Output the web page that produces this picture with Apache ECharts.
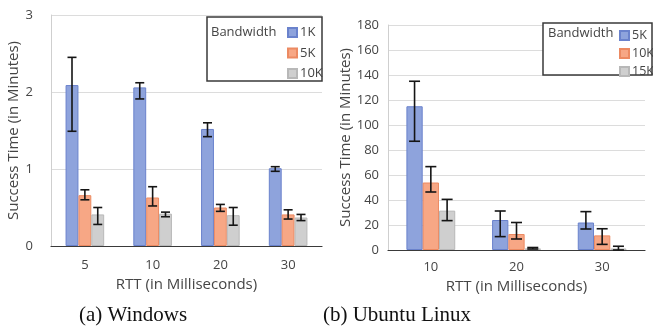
<!DOCTYPE html>
<html><head><meta charset="utf-8">
<script src="https://cdn.jsdelivr.net/npm/echarts@6/dist/echarts.min.js"></script>
<style>html,body{margin:0;padding:0;background:#fff}#c{width:653px;height:327px}</style>
</head><body><div id="c"></div>
<script>
// ---- Data: (a) Windows ----
var winCategories = ['5', '10', '20', '30'];
var winNames = ['1K', '5K', '10K'];
var win1K = [2.09, 2.06, 1.52, 1.01];
var win5K = [0.66, 0.63, 0.50, 0.41];
var win10K = [0.41, 0.42, 0.40, 0.37];
var win1KErr = [[1.49, 2.45], [1.91, 2.12], [1.42, 1.60], [0.97, 1.03]];
var win5KErr = [[0.60, 0.73], [0.52, 0.77], [0.45, 0.54], [0.35, 0.47]];
var win10KErr = [[0.28, 0.50], [0.38, 0.44], [0.27, 0.50], [0.33, 0.41]];
var winYTicks = [0, 1, 2, 3];

// ---- Data: (b) Ubuntu Linux ----
var ubuCategories = ['10', '20', '30'];
var ubuNames = ['5K', '10K', '15K'];
var ubu5K = [115, 24, 22];
var ubu10K = [54, 12.8, 11.7];
var ubu15K = [31.5, 1.3, 1.2];
var ubu5KErr = [[87, 135], [10.7, 31.2], [16.8, 30.7]];
var ubu10KErr = [[46.4, 66.7], [8.8, 22], [4.5, 17]];
var ubu15KErr = [[23.5, 40.5], [0.8, 2], [0, 3]];
var ubuYTicks = [0, 20, 40, 60, 80, 100, 120, 140, 160, 180];

var FILLS = ['#8ea3dc', '#f7a785', '#cfcfcf'];
var BORDERS = ['#6a82cc', '#ec8a62', '#b8b8b8'];
var FONT = 'Open Sans';
var TXT = '#454545';
var BARFRAC = 0.19;

var chart = echarts.init(document.getElementById('c'), null, {renderer: 'canvas'});

function barSeries(name, data, idx, axisIdx) {
  return {
    type: 'bar', name: name, data: data, xAxisIndex: axisIdx, yAxisIndex: axisIdx,
    barWidth: (BARFRAC * 100) + '%', barGap: '0%',
    itemStyle: {color: FILLS[idx], borderColor: BORDERS[idx], borderWidth: 1},
    silent: true
  };
}
function errSeries(err, idx, axisIdx, cap) {
  return {
    type: 'custom', xAxisIndex: axisIdx, yAxisIndex: axisIdx, silent: true, z: 10,
    data: err.map(function (e, i) { return [i, e[0], e[1]]; }),
    renderItem: function (params, api) {
      var band = api.size([1, 0])[0];
      var lo = api.coord([api.value(0), api.value(1)]);
      var hi = api.coord([api.value(0), api.value(2)]);
      var x = lo[0] + (idx - 1) * band * BARFRAC;
      var st = {stroke: '#151515', lineWidth: 1.6};
      return {type: 'group', children: [
        {type: 'line', shape: {x1: x, y1: lo[1], x2: x, y2: hi[1]}, style: st},
        {type: 'line', shape: {x1: x - cap, y1: lo[1], x2: x + cap, y2: lo[1]}, style: st},
        {type: 'line', shape: {x1: x - cap, y1: hi[1], x2: x + cap, y2: hi[1]}, style: st}
      ]};
    }
  };
}
function xAx(cats, gridIdx, margin, gap) {
  return {
    type: 'category', gridIndex: gridIdx, data: cats,
    name: 'RTT (in Milliseconds)', nameLocation: 'middle', nameGap: gap,
    nameTextStyle: {fontFamily: FONT, fontSize: 15, color: TXT},
    axisLine: {lineStyle: {color: '#3a3a3a', width: 1.2}},
    axisTick: {show: false},
    axisLabel: {fontFamily: FONT, fontSize: 13, color: TXT, margin: margin}
  };
}
function yAx(ticks, gridIdx, margin, gap) {
  return {
    type: 'value', gridIndex: gridIdx, min: ticks[0], max: ticks[ticks.length - 1],
    interval: ticks[1] - ticks[0],
    name: 'Success Time (in Minutes)', nameLocation: 'middle', nameGap: gap,
    nameTextStyle: {fontFamily: FONT, fontSize: 15, color: TXT},
    axisLine: {show: true, lineStyle: {color: '#cfcfcf', width: 1}},
    axisTick: {show: false},
    splitLine: {lineStyle: {color: '#dcdcdc', width: 1}},
    axisLabel: {fontFamily: FONT, fontSize: 13, color: TXT, margin: margin}
  };
}
function legendFor(names, prefix, left, top, gap, fs) {
  return {
    orient: 'vertical', left: left, top: top, itemGap: gap, z: 20,
    itemWidth: 9, itemHeight: 9, icon: 'rect', selectedMode: false,
    data: names.map(function (n) { return prefix + n; }),
    formatter: function (n) { return n.replace(prefix, ''); },
    textStyle: {fontFamily: FONT, fontSize: fs, color: TXT, padding: [0, 0, 0, -2]}
  };
}

var option = {
  animation: false,
  backgroundColor: '#fff',
  grid: [
    {left: 51, right: 331, top: 15, bottom: 81},
    {left: 388, right: 8, top: 25, bottom: 77}
  ],
  xAxis: [xAx(winCategories, 0, 13, 26), xAx(ubuCategories, 1, 11, 22)],
  yAxis: [yAx(winYTicks, 0, 18, 20), yAx(ubuYTicks, 1, 9, 32)],
  legend: [legendFor(winNames, 'W', 282, 21, 7.5, 13), legendFor(ubuNames, 'U', 614, 24, 5, 12.5)],
  series: [
    barSeries('W1K', win1K, 0, 0), barSeries('W5K', win5K, 1, 0), barSeries('W10K', win10K, 2, 0),
    errSeries(win1KErr, 0, 0, 4.5), errSeries(win5KErr, 1, 0, 4.5), errSeries(win10KErr, 2, 0, 4.5),
    barSeries('U5K', ubu5K, 0, 1), barSeries('U10K', ubu10K, 1, 1), barSeries('U15K', ubu15K, 2, 1),
    errSeries(ubu5KErr, 0, 1, 5.5), errSeries(ubu10KErr, 1, 1, 5.5), errSeries(ubu15KErr, 2, 1, 5.5)
  ],
  graphic: [
    {type: 'rect', z: 1, shape: {x: 207, y: 17, width: 115, height: 64}, style: {fill: '#fff', stroke: '#3a3a3a', lineWidth: 1.5}},
    {type: 'text', z: 2, x: 211, y: 32, style: {text: 'Bandwidth', font: '13px "Open Sans"', fill: TXT, verticalAlign: 'middle'}},
    {type: 'rect', z: 1, shape: {x: 543, y: 23, width: 109, height: 52}, style: {fill: '#fff', stroke: '#3a3a3a', lineWidth: 1.5}},
    {type: 'text', z: 2, x: 548, y: 33, style: {text: 'Bandwidth', font: '13px "Open Sans"', fill: TXT, verticalAlign: 'middle'}},
    {type: 'text', x: 133, y: 315, style: {text: '(a) Windows', font: '21px "Liberation Serif"', fill: '#111', align: 'center', verticalAlign: 'middle'}},
    {type: 'text', x: 397, y: 315, style: {text: '(b) Ubuntu Linux', font: '21px "Liberation Serif"', fill: '#111', align: 'center', verticalAlign: 'middle'}}
  ]
};
chart.setOption(option);
</script></body></html>
